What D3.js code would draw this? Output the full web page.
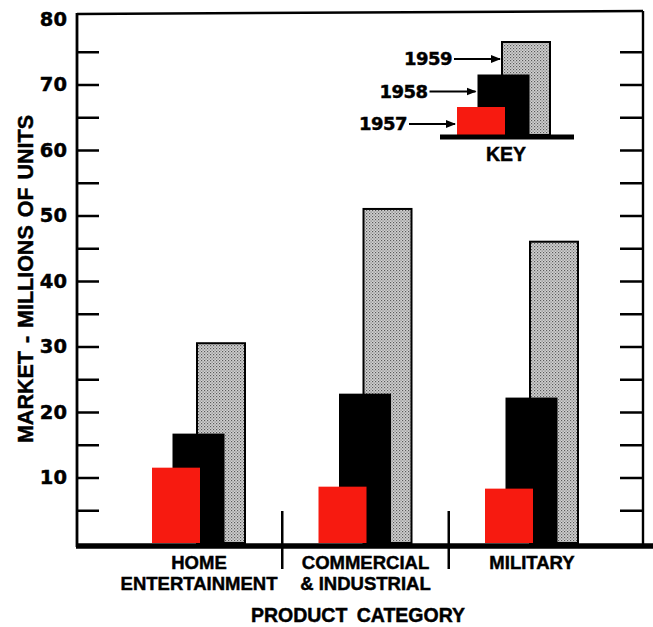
<!DOCTYPE html>
<html><head><meta charset="utf-8">
<script src="https://cdn.jsdelivr.net/npm/d3@7"></script>
<style>body{margin:0;background:#fff}svg{display:block}</style>
</head><body>
<script>
// ---- data ----
const categories = ["Home Entertainment", "Commercial & Industrial", "Military"];
const categoryLines = [["HOME", "ENTERTAINMENT"], ["COMMERCIAL", "& INDUSTRIAL"], ["MILITARY"]];
const years = ["1957", "1958", "1959"];
const values1957 = [11.5, 8.6, 8.3];
const values1958 = [16.7, 22.8, 22.2];
const values1959 = [30.5, 51, 46];
const tickValues = [5, 10, 15, 20, 25, 30, 35, 40, 45, 50, 55, 60, 65, 70, 75, 80];
const tickLabels = ["", "10", "", "20", "", "30", "", "40", "", "50", "", "60", "", "70", "", "80"];
const keyLevels = [1, 2, 3];
const yTitle = "MARKET - MILLIONS OF UNITS";
const xTitle = "PRODUCT CATEGORY";
const keyTitle = "KEY";

// ---- layout / style ----
const W = 653, H = 627;
const style = {
  colors: {"1957": "#f71a10", "1958": "#000", "1959": "url(#stipple)"},
  widths: {"1957": 48, "1958": 52, "1959": 48},
  textFont: "'Liberation Sans', Arial, sans-serif",
  numFont: "'DejaVu Sans', sans-serif"
};
const series = years.map((yr, i) => ({year: yr, values: [values1957, values1958, values1959][i]}));

const svg = d3.select("body").append("svg").attr("width", W).attr("height", H);
const defs = svg.append("defs");
const pat = defs.append("pattern").attr("id", "stipple").attr("patternUnits", "userSpaceOnUse")
  .attr("width", 3).attr("height", 3);
pat.append("rect").attr("width", 3).attr("height", 3).attr("fill", "#d2d2d2");
pat.append("rect").attr("x", 0).attr("y", 0).attr("width", 1.2).attr("height", 1.2).attr("fill", "#5a5a5a");
pat.append("rect").attr("x", 1.5).attr("y", 1.5).attr("width", 1.2).attr("height", 1.2).attr("fill", "#7a7a7a");
defs.append("marker").attr("id", "arrow").attr("viewBox", "0 0 10 10").attr("refX", 9).attr("refY", 5)
  .attr("markerWidth", 5).attr("markerHeight", 5).attr("orient", "auto")
  .append("path").attr("d", "M0,1 L10,5 L0,9 Z").attr("fill", "#000");

const left = 77, right = 643, base = 543;
const y = d3.scaleLinear().domain([0, 80]).range([base, 19]);
const x = d3.scalePoint().domain(categories).range([199, 532]);
const off = d3.scalePoint().domain(years).range([-23, 22]);

function boldText(sel) {
  return sel.attr("font-weight", "bold").attr("fill", "#000")
    .attr("stroke", "#000").attr("stroke-width", 0.45);
}

// axes
const axL = svg.append("g").attr("transform", `translate(${left},0)`)
  .call(d3.axisLeft(y).tickValues(tickValues).tickSizeInner(-22).tickSizeOuter(0).tickPadding(10)
    .tickFormat((d, i) => tickLabels[i]));
axL.select(".domain").remove();
axL.selectAll(".tick line").attr("stroke", "#000").attr("stroke-width", 2.5)
  .filter(d => d === 80).remove();
boldText(axL.selectAll(".tick text")).attr("font-family", style.numFont).attr("font-size", 19.5);

const axR = svg.append("g").attr("transform", `translate(${right},0)`)
  .call(d3.axisRight(y).tickValues(tickValues.filter(v => v < 80)).tickSizeInner(-23).tickSizeOuter(0).tickFormat(""));
axR.select(".domain").remove();
axR.selectAll(".tick line").attr("stroke", "#000").attr("stroke-width", 2.5);

// frame
svg.append("line").attr("x1", left).attr("x2", left).attr("y1", 13).attr("y2", base + 4)
  .attr("stroke", "#000").attr("stroke-width", 2.8);
svg.append("line").attr("x1", left).attr("x2", right).attr("y1", 14).attr("y2", 11)
  .attr("stroke", "#000").attr("stroke-width", 2.4);
svg.append("line").attr("x1", right).attr("x2", right).attr("y1", 11).attr("y2", base + 2)
  .attr("stroke", "#000").attr("stroke-width", 2.4);

// bars (draw 1959 first, then 1958, then 1957 on top)
const barG = svg.append("g");
series.slice().reverse().forEach(s => {
  barG.selectAll(null).data(s.values.map((v, i) => ({cat: categories[i], v})))
    .enter().append("rect")
    .attr("x", d => x(d.cat) + off(s.year) - style.widths[s.year] / 2)
    .attr("width", style.widths[s.year])
    .attr("y", d => y(d.v))
    .attr("height", d => y(0) - y(d.v))
    .attr("fill", style.colors[s.year])
    .attr("stroke", s.year === "1959" ? "#000" : "none")
    .attr("stroke-width", 2);
});

// baseline
svg.append("line").attr("x1", left - 1).attr("x2", W).attr("y1", base + 3).attr("y2", base + 3)
  .attr("stroke", "#000").attr("stroke-width", 5.5);

// separators
for (let i = 0; i < categories.length - 1; i++) {
  const mx = (x(categories[i]) + x(categories[i + 1])) / 2;
  svg.append("line").attr("x1", mx).attr("x2", mx).attr("y1", 511).attr("y2", 569)
    .attr("stroke", "#000").attr("stroke-width", 2.5);
}

// category labels
categories.forEach((c, i) => {
  const t = boldText(svg.append("text").attr("x", x(c)).attr("y", 569).attr("text-anchor", "middle")
    .attr("font-family", style.textFont).attr("font-size", 18.5));
  categoryLines[i].forEach((ln, j) => t.append("tspan").attr("x", x(c)).attr("dy", j ? 21 : 0).text(ln));
});
boldText(svg.append("text").attr("x", 358).attr("y", 622).attr("text-anchor", "middle")
  .attr("font-family", style.textFont).attr("font-size", 19.5)
  .attr("word-spacing", 4)).text(xTitle);
boldText(svg.append("text").attr("transform", "translate(33,279) rotate(-90)").attr("text-anchor", "middle")
  .attr("font-family", style.textFont).attr("font-size", 21.5)
  .attr("word-spacing", 2)).text(yTitle);

// key
const keyX = 504, keyBase = 135;
const keyH = d3.scaleLinear().domain([1, 3]).range([28, 93]);
const kg = svg.append("g");
series.slice().reverse().forEach(s => {
  const lvl = keyLevels[years.indexOf(s.year)];
  const bx = keyX + off(s.year) - style.widths[s.year] / 2;
  const top = keyBase - keyH(lvl);
  kg.append("rect").attr("x", bx).attr("y", top).attr("width", style.widths[s.year])
    .attr("height", keyH(lvl)).attr("fill", style.colors[s.year])
    .attr("stroke", s.year === "1959" ? "#000" : "none").attr("stroke-width", 2);
  boldText(kg.append("text").attr("x", bx - 50).attr("y", top + 17).attr("dy", "0.36em").attr("text-anchor", "end")
    .attr("font-family", style.numFont).attr("font-size", 18)
    .attr("letter-spacing", -0.5)).text(s.year);
  kg.append("line").attr("x1", bx - 48).attr("x2", bx - 2).attr("y1", top + 17).attr("y2", top + 17)
    .attr("stroke", "#000").attr("stroke-width", 2).attr("marker-end", "url(#arrow)");
});
svg.append("line").attr("x1", 440).attr("x2", 574).attr("y1", keyBase + 2).attr("y2", keyBase + 2)
  .attr("stroke", "#000").attr("stroke-width", 5);
boldText(svg.append("text").attr("x", 506).attr("y", 161).attr("text-anchor", "middle")
  .attr("font-family", style.textFont).attr("font-size", 19.5)).text(keyTitle);
</script>
</body></html>
